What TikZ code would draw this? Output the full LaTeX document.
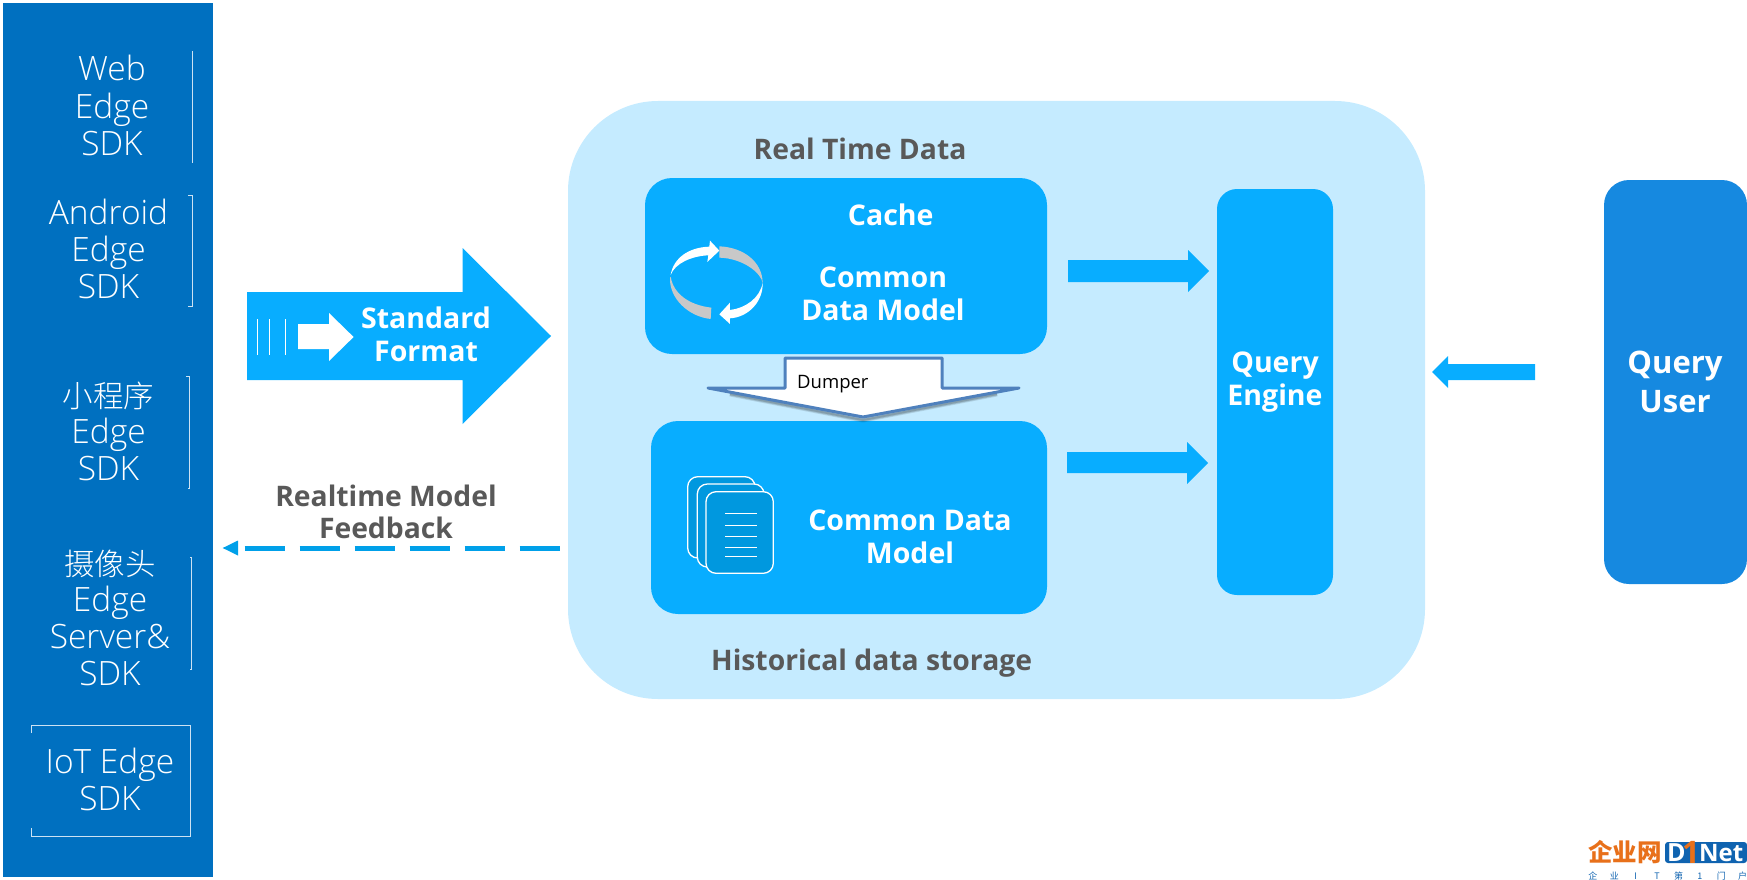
\documentclass[tikz,border=0pt]{standalone}
\usepackage{fontspec}
\setmainfont{Open Sans}
\newfontfamily\lightf{Open Sans Light}
\newfontfamily\cjk{Noto Sans CJK SC}
\newfontfamily\cjklight{Noto Sans CJK SC Light}
\definecolor{panel}{HTML}{0070C0}
\definecolor{store}{HTML}{C5EBFF}
\definecolor{sky}{HTML}{08ADFF}
\definecolor{userblue}{HTML}{1689E0}
\definecolor{graytxt}{HTML}{595959}
\definecolor{dashblue}{HTML}{00A0E9}
\definecolor{dumpblue}{HTML}{4F81BD}
\definecolor{paper}{HTML}{0098DF}
\definecolor{cyclegray}{HTML}{C8C8C8}
\definecolor{logoorange}{HTML}{E8701A}
\definecolor{logoblue}{HTML}{0F63B0}
\tikzset{
  rbox/.style={anchor=north west,inner sep=0pt,outer sep=0pt,text width=0pt},
  sdk/.style={white,anchor=base,align=center,inner sep=0pt,font=\lightf\fontsize{33.5}{37}\selectfont},
  boldw/.style={white,anchor=base,align=center,inner sep=0pt,font=\bfseries\fontsize{28.5}{33}\selectfont},
  boldg/.style={graytxt,anchor=base,align=center,inner sep=0pt,font=\bfseries\fontsize{28.3}{32}\selectfont},
  bracket/.style={white!80!panel,line width=0.8pt},
  blockarrow/.style={fill=sky,draw=none},
  sheet/.style={fill=paper,draw=white,line width=1.3pt,rounded corners=10pt},
  sheetline/.style={white,line width=0.8pt},
}
\newcommand{\logochar}[1]{\makebox[21.4pt]{#1}}
\newcommand{\cjktext}[1]{{\cjklight\fontsize{30.5}{37}\selectfont\raisebox{-1.5pt}{#1}}}
\begin{document}
\begin{tikzpicture}[x=1pt,y=-1pt]
\useasboundingbox (0,0) rectangle (1747,880);
% left panel
\fill[panel] (3,3) rectangle (213,877);
\node[sdk] (web) at (112,155) {Web\\Edge\\SDK};
\node[sdk] (android) at (108.5,298) {Android\\Edge\\SDK};
\node[sdk] (mini) at (108.5,480) {\cjktext{小程序}\\Edge\\SDK};
\node[sdk] (camera) at (110,685) {\cjktext{摄像头}\\Edge\\Server\&\\SDK};
\node[sdk] (iot) at (110,810) {IoT Edge\\SDK};
\draw[bracket] (192.5,51) -- (192.5,163);
\draw[bracket] (188,195.5) -- (192.5,195.5) -- (192.5,306) -- (188,306);
\draw[bracket] (186,376.5) -- (189.5,376.5) -- (189.5,488) -- (188,488);
\draw[bracket] (190,557) -- (191.5,557) -- (191.5,669) -- (190,669);
\draw[bracket] (31.5,733) -- (31.5,725) -- (190,725) -- (190,836.5) -- (31.5,836.5) -- (31.5,828);
% standard format arrow
\fill[blockarrow] (247,292) -- (462.5,292) -- (462.5,248) -- (551,336) -- (462.5,424) -- (462.5,380) -- (247,380) -- cycle;
\foreach \x in {257.5,269.6,285.7} \draw[white,line width=0.8pt] (\x,319) -- (\x,355);
\fill[white] (298,324) -- (329,324) -- (329,313) -- (353.6,337) -- (329,361) -- (329,349) -- (298,349) -- cycle;
\node[boldw] (format) at (426,361) {Standard\\Format};
% feedback
\node[boldg] (feedback) at (386,538.5) {Realtime Model\\Feedback};
\coordinate (fbstart) at (560,548);
\coordinate (fbend) at (244.5,548);
\draw[dashblue,line width=5pt,dash pattern=on 40pt off 15pt] (fbend) -- (fbstart);
\fill[dashblue] (238,540.5) -- (222.7,548) -- (238,555.5) -- cycle;
% store
\node[rbox,fill=store,rounded corners=90pt,minimum width=857pt,minimum height=598pt] (storage) at (568,101) {};
\node[boldg] (rt) at (860,159) {Real Time Data};
\node[boldg] (hist) at (871.6,670.5) {Historical data storage};
% cache box
\node[rbox,fill=sky,rounded corners=27pt,minimum width=402pt,minimum height=176pt] (cache) at (645,178) {};
\node[boldw] (cachet) at (890.7,225) {Cache};
\node[boldw] (cdm1) at (883,320) {Common\\Data Model};
% cycle icon
\begin{scope}[shift={(620,130)},x=0.3333pt,y=-0.3333pt]
\fill[cyclegray] (298,349) .. controls (370,352) and (428,395) .. (428,460) .. controls (425,430) and (370,385) .. (298,383) -- cycle;
\fill[cyclegray] (150,445) .. controls (148,505) and (205,560) .. (272,567) -- (274,533) .. controls (205,525) and (160,490) .. (152,440) -- cycle;
\fill[white] (152,435) .. controls (160,385) and (205,352) .. (268,350) -- (270,332) -- (298,362) -- (262,396) -- (265,376) .. controls (215,378) and (165,400) .. (152,435) -- cycle;
\fill[white] (428,458) .. controls (430,515) and (385,562) .. (330,565) -- (330,582) -- (298,553) -- (330,518) -- (330,540) .. controls (375,535) and (420,505) .. (428,458) -- cycle;
\end{scope}
% historical box
\node[rbox,fill=sky,rounded corners=27pt,minimum width=396pt,minimum height=193pt] (hbox) at (651,421) {};
\node[boldw] (cdm2) at (910,563) {Common Data\\Model};
\draw[sheet] (687.7,476.7) rectangle (755,558);
\draw[sheet] (697.3,484) rectangle (764,567);
\draw[sheet] (706,491.7) rectangle (773.3,573.3);
\foreach \y in {513.3,525,536.3,547.3,556.3} \draw[sheetline] (725,\y) -- (757.3,\y);
% dumper
\foreach \w/\o in {5/0.1,3.5/0.12,2/0.15}
  \draw[black,line width=\w pt,opacity=\o,line join=round] (730,394) -- (863,420) -- (997,394);
\draw[fill=white,draw=dumpblue,line width=3pt,line join=round] (785,358) -- (942,358) -- (942,388) -- (1019,388) -- (863,417) -- (708,388) -- (785,388) -- cycle;
\node[black,anchor=base west,inner sep=0pt,font=\fontsize{18.5}{20}\selectfont] (dump) at (797,388) {Dumper};
% query engine
\node[rbox,fill=sky,rounded corners=20pt,minimum width=116pt,minimum height=406pt] (engine) at (1217,189) {};
\node[boldw] (enginet) at (1275,405) {Query\\Engine};
\fill[blockarrow] (1068,260) -- (1188,260) -- (1188,250) -- (1209,271) -- (1188,292) -- (1188,282) -- (1068,282) -- cycle;
\fill[blockarrow] (1067,452) -- (1187,452) -- (1187,442) -- (1208,463) -- (1187,484) -- (1187,473) -- (1067,473) -- cycle;
\fill[blockarrow] (1535,364) -- (1448,364) -- (1448,356) -- (1432,372) -- (1448,388) -- (1448,380) -- (1535,380) -- cycle;
% query user
\node[rbox,fill=userblue,rounded corners=25pt,minimum width=143pt,minimum height=404pt] (user) at (1604,180) {};
\node[white,anchor=base,align=center,inner sep=0pt,font=\bfseries\fontsize{31}{39}\selectfont] (usert) at (1675,412) {Query\\User};
% logo
\node[anchor=base west,inner sep=0pt,logoorange,font=\cjk\bfseries\fontsize{24.5}{24}\selectfont] (logo1) at (1588,861) {企业网};
\fill[logoblue,rounded corners=3pt] (1665,842) rectangle (1747,863);
\node[anchor=base west,inner sep=0pt,white,font=\bfseries\fontsize{25}{25}\selectfont] (logo2) at (1667,861.5) {D};
\node[anchor=base west,inner sep=0pt,white,font=\bfseries\fontsize{24}{24}\selectfont] (logo5) at (1699,861) {Net};
\node[anchor=base,inner sep=0pt,logoorange,font=\bfseries\fontsize{31}{31}\selectfont] (logo3) at (1691,863) {1};
\node[anchor=base west,inner sep=0pt,logoblue,font=\cjk\fontsize{9}{9}\selectfont] (logo4) at (1582,879) {\logochar{企}\logochar{业}\logochar{I}\logochar{T}\logochar{第}\logochar{1}\logochar{门}\logochar{户}};
\end{tikzpicture}
\end{document}
